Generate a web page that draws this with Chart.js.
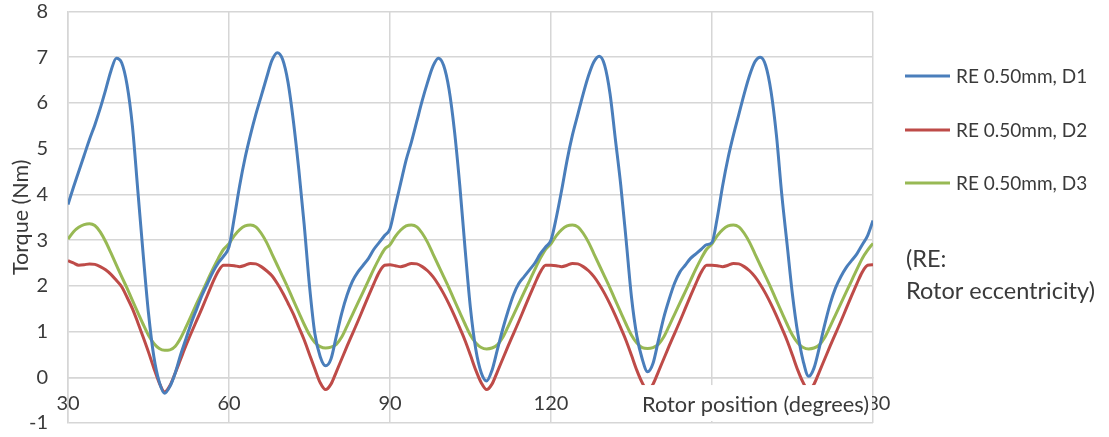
<!DOCTYPE html>
<html>
<head>
<meta charset="utf-8">
<script src="https://cdn.jsdelivr.net/npm/chart.js@4.4.1/dist/chart.umd.min.js"></script>
<style>
  body { margin: 0; background: #fff; }
  #wrap { width: 1109px; height: 437px; position: relative; }
</style>
</head>
<body>
<div id="wrap"><canvas id="torqueChart"></canvas></div>
<script>
// rotor position, degrees
const rotorDeg = [
  30,31,32,33,34,35,36,37,38,39,40,41,42,43,44,45,46,47,48,49,50,51,52,53,54,55,56,57,58,59,
  60,61,62,63,64,65,66,67,68,69,70,71,72,73,74,75,76,77,78,79,80,81,82,83,84,85,86,87,88,89,
  90,91,92,93,94,95,96,97,98,99,100,101,102,103,104,105,106,107,108,109,110,111,112,113,114,115,116,117,118,119,
  120,121,122,123,124,125,126,127,128,129,130,131,132,133,134,135,136,137,138,139,140,141,142,143,144,145,146,147,148,149,
  150,151,152,153,154,155,156,157,158,159,160,161,162,163,164,165,166,167,168,169,170,171,172,173,174,175,176,177,178,179,
  180
];

// torque (Nm), RE 0.50mm D1
const torqueD1 = [
  3.78,4.15,4.5,4.85,5.2,5.52,5.88,6.28,6.7,6.98,6.88,6.4,5.5,4.1,2.7,1.4,0.45,-0.1,-0.35,-0.2,0.1,0.5,0.85,1.2,1.5,1.8,2.05,2.3,2.5,2.65,
  2.85,3.5,4.2,4.8,5.3,5.75,6.15,6.55,6.93,7.1,6.95,6.45,5.6,4.55,3.35,2.0,0.95,0.45,0.25,0.4,0.9,1.4,1.8,2.1,2.3,2.45,2.6,2.8,2.95,3.1,
  3.25,3.75,4.25,4.75,5.15,5.6,6.05,6.45,6.8,6.98,6.82,6.3,5.4,4.2,2.8,1.5,0.6,0.1,-0.08,0.15,0.6,1.05,1.45,1.8,2.05,2.2,2.35,2.5,2.7,2.85,
  3.0,3.5,4.1,4.75,5.3,5.75,6.2,6.6,6.9,7.02,6.82,6.2,5.2,4.2,3.0,1.75,0.9,0.4,0.12,0.3,0.8,1.3,1.7,2.05,2.3,2.45,2.6,2.7,2.8,2.9,
  2.95,3.5,4.2,4.8,5.3,5.75,6.2,6.6,6.9,7.0,6.82,6.25,5.3,4.0,2.9,1.8,0.95,0.35,0.02,0.2,0.65,1.15,1.6,1.95,2.2,2.4,2.55,2.7,2.9,3.1,
  3.43
];

// torque (Nm), RE 0.50mm D2
const torqueD2 = [
  2.55,2.5,2.45,2.46,2.48,2.47,2.42,2.35,2.25,2.12,1.98,1.75,1.5,1.2,0.88,0.55,0.2,-0.12,-0.32,-0.18,0.1,0.4,0.7,0.98,1.25,1.52,1.8,2.08,2.32,2.45,
  2.45,2.44,2.42,2.45,2.49,2.48,2.42,2.33,2.22,2.05,1.85,1.62,1.38,1.1,0.82,0.5,0.18,-0.12,-0.27,-0.15,0.12,0.4,0.68,0.95,1.22,1.5,1.78,2.05,2.3,2.45,
  2.46,2.44,2.42,2.45,2.49,2.48,2.42,2.33,2.2,2.03,1.83,1.6,1.35,1.08,0.8,0.48,0.15,-0.12,-0.27,-0.15,0.12,0.4,0.68,0.95,1.22,1.5,1.78,2.05,2.3,2.45,
  2.45,2.44,2.42,2.45,2.49,2.48,2.42,2.33,2.2,2.03,1.83,1.6,1.35,1.08,0.8,0.48,0.15,-0.12,-0.28,-0.15,0.12,0.4,0.68,0.95,1.22,1.5,1.78,2.05,2.3,2.45,
  2.45,2.44,2.42,2.45,2.49,2.48,2.42,2.33,2.2,2.03,1.83,1.6,1.35,1.08,0.8,0.48,0.15,-0.12,-0.28,-0.15,0.12,0.4,0.68,0.95,1.22,1.5,1.78,2.05,2.3,2.45,
  2.46
];

// torque (Nm), RE 0.50mm D3
const torqueD3 = [
  3.02,3.18,3.28,3.34,3.36,3.32,3.18,2.97,2.72,2.46,2.2,1.95,1.68,1.42,1.16,0.92,0.74,0.63,0.59,0.6,0.68,0.86,1.1,1.36,1.62,1.87,2.12,2.37,2.6,2.8,
  2.92,3.1,3.23,3.31,3.33,3.29,3.15,2.95,2.7,2.45,2.2,1.95,1.68,1.42,1.16,0.93,0.76,0.67,0.64,0.66,0.72,0.88,1.12,1.37,1.62,1.87,2.12,2.37,2.6,2.8,
  2.9,3.08,3.22,3.31,3.33,3.29,3.15,2.95,2.7,2.45,2.2,1.95,1.68,1.42,1.16,0.92,0.75,0.65,0.62,0.64,0.71,0.87,1.11,1.36,1.61,1.86,2.11,2.36,2.6,2.8,
  2.92,3.1,3.23,3.31,3.33,3.29,3.15,2.95,2.7,2.45,2.2,1.95,1.68,1.42,1.16,0.92,0.75,0.65,0.63,0.65,0.72,0.88,1.12,1.37,1.62,1.87,2.12,2.37,2.6,2.8,
  2.92,3.1,3.23,3.31,3.33,3.29,3.15,2.95,2.7,2.45,2.2,1.95,1.68,1.42,1.16,0.92,0.75,0.65,0.62,0.64,0.71,0.87,1.11,1.36,1.61,1.86,2.11,2.36,2.6,2.78,
  2.93
];

const seriesLabels = ["RE 0.50mm, D1", "RE 0.50mm, D2", "RE 0.50mm, D3"];
const seriesColors = ["#4a7ebb", "#be4b48", "#98b954"];
const xTicks = [30, 60, 90, 120, 150, 180];
const yTicks = [-1, 0, 1, 2, 3, 4, 5, 6, 7, 8];
const noteLines = ["(RE:", "Rotor eccentricity)"];

const FONT = "Lato, 'Open Sans', sans-serif";
const GRID = "#d6d6d6";
const TEXT = "#3a3a3a";

const toPoints = (ys) => ys.map((y, i) => ({ x: rotorDeg[i], y: y }));

// legend + note drawn on the right, using the dataset styles
const sideLegend = {
  id: "sideLegend",
  afterDraw(chart) {
    const ctx = chart.ctx;
    ctx.save();
    ctx.font = "19px " + FONT;
    ctx.fillStyle = TEXT;
    ctx.textBaseline = "middle";
    const rows = [76, 130, 183];
    chart.data.datasets.forEach((ds, i) => {
      ctx.strokeStyle = ds.borderColor;
      ctx.lineWidth = 3;
      ctx.beginPath();
      ctx.moveTo(905, rows[i]);
      ctx.lineTo(950, rows[i]);
      ctx.stroke();
      ctx.fillText(ds.label, 956, rows[i] + 1);
    });
    ctx.font = "23.5px " + FONT;
    ctx.fillText(noteLines[0], 906, 259);
    ctx.fillText(noteLines[1], 906, 291);
    ctx.restore();
  }
};

// x-axis title sits inside the plot with a white box, like the original
const xTitleBox = {
  id: "xTitleBox",
  afterDraw(chart) {
    const ctx = chart.ctx;
    const area = chart.chartArea;
    const top = chart.scales.y.getPixelForValue(-0.17);
    ctx.save();
    ctx.fillStyle = "#fff";
    ctx.fillRect(640, top, area.right - 1 - 640, area.bottom - 2 - top);
    ctx.font = "21.8px " + FONT;
    ctx.fillStyle = TEXT;
    ctx.textBaseline = "middle";
    ctx.fillText("Rotor position (degrees)", 642, 405);
    ctx.restore();
  }
};

new Chart(document.getElementById("torqueChart").getContext("2d"), {
  type: "line",
  data: {
    datasets: [torqueD1, torqueD2, torqueD3].map((ys, i) => ({
      label: seriesLabels[i],
      data: toPoints(ys),
      borderColor: seriesColors[i],
      backgroundColor: seriesColors[i],
      borderWidth: 3,
      pointRadius: 0,
      cubicInterpolationMode: "monotone",
      fill: false
    }))
  },
  options: {
    responsive: true,
    maintainAspectRatio: false,
    animation: false,
    layout: { padding: { top: 11.5, right: 236, bottom: 14, left: 0 } },
    plugins: {
      legend: { display: false },
      tooltip: { enabled: false }
    },
    scales: {
      x: {
        type: "linear",
        position: { y: 0 },
        min: 30,
        max: 180,
        afterBuildTicks: (s) => { s.ticks = xTicks.map(v => ({ value: v })); },
        afterFit: (s) => { s.height = 0; },
        grid: { color: GRID, lineWidth: 1.5, drawTicks: false },
        border: { color: GRID, width: 1.5 },
        ticks: { color: TEXT, padding: 16, font: { family: FONT, size: 20, lineHeight: 1 } }
      },
      y: {
        position: "left",
        min: -1,
        max: 8,
        afterBuildTicks: (s) => { s.ticks = yTicks.map(v => ({ value: v })); },
        afterFit: (s) => { s.width = 68; s.paddingTop = 0; s.paddingBottom = 0; },
        grid: { color: GRID, lineWidth: 1.5, drawTicks: false },
        border: { color: GRID, width: 1.5 },
        ticks: { color: TEXT, padding: 20, font: { family: FONT, size: 20, lineHeight: 1 } },
        title: {
          display: true,
          text: "Torque (Nm)",
          color: TEXT,
          padding: { top: 8, bottom: 0 },
          font: { family: FONT, size: 21.5 }
        }
      }
    }
  },
  plugins: [sideLegend, xTitleBox]
});
</script>
</body>
</html>
